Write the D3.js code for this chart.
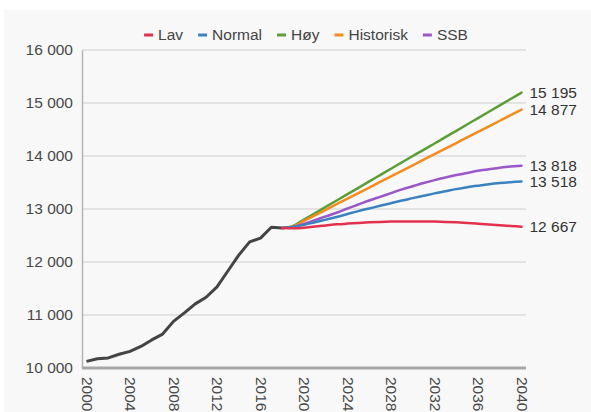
<!DOCTYPE html>
<html>
<head>
<meta charset="utf-8">
<script src="https://cdn.jsdelivr.net/npm/d3@7"></script>
<style>
  html, body { margin: 0; padding: 0; background: #fff; }
  svg { display: block; font-family: "Liberation Sans", Arial, sans-serif; }
</style>
</head>
<body>
<svg id="chart" width="591" height="412"></svg>
<script>
// historical series
const histYears = [2000, 2001, 2002, 2003, 2004, 2005, 2006, 2007, 2008, 2009,
    2010, 2011, 2012, 2013, 2014, 2015, 2016, 2017, 2018];
const histValues = [10125, 10175, 10190, 10260, 10313, 10406, 10530, 10640, 10880, 11040,
    11210, 11335, 11530, 11830, 12130, 12380, 12450, 12655, 12640];

// projections 2018-2040
const projYears = [2018, 2019, 2020, 2021, 2022, 2023, 2024, 2025, 2026, 2027, 2028,
    2029, 2030, 2031, 2032, 2033, 2034, 2035, 2036, 2037, 2038, 2039, 2040];
const lav = [12640, 12635, 12645, 12670, 12690, 12710, 12725, 12738, 12748, 12756, 12762,
    12765, 12766, 12765, 12762, 12756, 12748, 12737, 12723, 12708, 12693, 12680, 12667];
const normal = [12640, 12660, 12700, 12750, 12800, 12850, 12905, 12960, 13010, 13060, 13110,
    13160, 13205, 13250, 13295, 13335, 13375, 13410, 13440, 13468, 13490, 13506, 13518];
const hoy = [12640, 12680, 12800, 12920, 13040, 13160, 13280, 13400, 13520, 13640, 13760,
    13880, 14000, 14115, 14235, 14355, 14475, 14595, 14715, 14835, 14955, 15075, 15195];
const historisk = [12640, 12670, 12775, 12880, 12985, 13090, 13195, 13300, 13405, 13510, 13615,
    13720, 13825, 13930, 14035, 14140, 14245, 14350, 14455, 14560, 14665, 14770, 14877];
const ssb = [12640, 12665, 12720, 12790, 12860, 12930, 13010, 13085, 13160, 13230, 13300,
    13370, 13430, 13490, 13545, 13595, 13640, 13680, 13720, 13750, 13780, 13800, 13818];

const seriesNames = ['Lav', 'Normal', 'Høy', 'Historisk', 'SSB'];
const seriesValues = [lav, normal, hoy, historisk, ssb];
const seriesColors = ['#e3304c', '#3a82c0', '#5b9e38', '#f38b1e', '#9a57c8'];

const yTicks = [10000, 11000, 12000, 13000, 14000, 15000, 16000];
const xTicks = [2000, 2004, 2008, 2012, 2016, 2020, 2024, 2028, 2032, 2036, 2040];

const svg = d3.select('#chart');
const fmt = d3.formatLocale({decimal: ',', thousands: ' ', grouping: [3], currency: ['', '']}).format(',d');

// light panel behind the chart
svg.append('rect')
    .attr('x', 4).attr('y', 10)
    .attr('width', 587).attr('height', 402)
    .attr('fill', '#f8f8f8');

const plotLeft = 82, plotRight = 526, plotTop = 50, plotBottom = 368;
const x = d3.scaleLinear().domain([2000, 2040]).range([86.5, 521.5]);
const y = d3.scaleLinear().domain([10000, 16000]).range([plotBottom, plotTop]);

// grid
svg.append('g')
    .selectAll('line')
    .data(yTicks.slice(1))
    .enter()
    .append('line')
    .attr('x1', plotLeft).attr('x2', plotRight)
    .attr('y1', d => y(d)).attr('y2', d => y(d))
    .attr('stroke', '#dcdcdc')
    .attr('stroke-width', 1.5);

// Y axis
const yAxis = svg.append('g')
    .attr('transform', `translate(${plotLeft},0)`)
    .call(d3.axisLeft(y).tickValues(yTicks).tickFormat(fmt).tickSize(0).tickPadding(9));
yAxis.select('.domain').attr('stroke', '#b4b4b4').attr('stroke-width', 1.5);
yAxis.selectAll('text')
    .attr('fill', '#484848')
    .style('font-size', '15.5px');

// X axis
const xAxis = svg.append('g')
    .attr('transform', `translate(0,${plotBottom})`)
    .call(d3.axisBottom(x).tickValues(xTicks).tickFormat(d3.format('d')).tickSize(0));
xAxis.select('.domain')
    .attr('d', `M${plotLeft},0H${plotRight}`)
    .attr('stroke', '#a8a8a8')
    .attr('stroke-width', 3);
xAxis.selectAll('text')
    .attr('fill', '#484848')
    .style('font-size', '15.5px')
    .attr('text-anchor', 'start')
    .attr('y', 0)
    .attr('dy', '0.35em')
    .attr('transform', 'translate(0,9) rotate(90)');

const histLine = d3.line()
    .x(d => x(d[0]))
    .y(d => y(d[1]));

const projLine = d3.line()
    .x(d => x(d[0]))
    .y(d => y(d[1]))
    .curve(d3.curveMonotoneX);

// historical line
svg.append('path')
    .datum(histYears.map((yr, i) => [yr, histValues[i]]))
    .attr('d', histLine)
    .attr('fill', 'none')
    .attr('stroke', '#444')
    .attr('stroke-width', 3)
    .attr('stroke-linejoin', 'round');

// projections, drawn so Lav ends up on top
const order = [2, 3, 4, 1, 0];
order.forEach(function (s) {
    svg.append('path')
        .datum(projYears.map((yr, i) => [yr, seriesValues[s][i]]))
        .attr('d', projLine)
        .attr('fill', 'none')
        .attr('stroke', seriesColors[s])
        .attr('stroke-width', 2.5)
        .attr('stroke-linecap', 'round');
});

// end labels
seriesValues.forEach(function (vals) {
    const last = vals[vals.length - 1];
    svg.append('text')
        .attr('x', x(2040) + 8)
        .attr('y', y(last))
        .attr('dy', '0.35em')
        .attr('fill', '#333')
        .style('font-size', '15.5px')
        .text(fmt(last));
});

// legend
const legend = svg.append('g');
let cursor = 0;
seriesNames.forEach(function (name, i) {
    const g = legend.append('g');
    g.append('line')
        .attr('x1', 0).attr('x2', 9)
        .attr('stroke', seriesColors[i])
        .attr('stroke-width', 3);
    const t = g.append('text')
        .attr('x', 14)
        .attr('dy', '0.35em')
        .attr('fill', '#444')
        .style('font-size', '15.5px')
        .text(name);
    g.attr('transform', `translate(${cursor},0)`);
    cursor += 14 + t.node().getComputedTextLength() + 15;
});
const legendWidth = cursor - 15;
legend.attr('transform', `translate(${306 - legendWidth / 2},35)`);
</script>
</body>
</html>
